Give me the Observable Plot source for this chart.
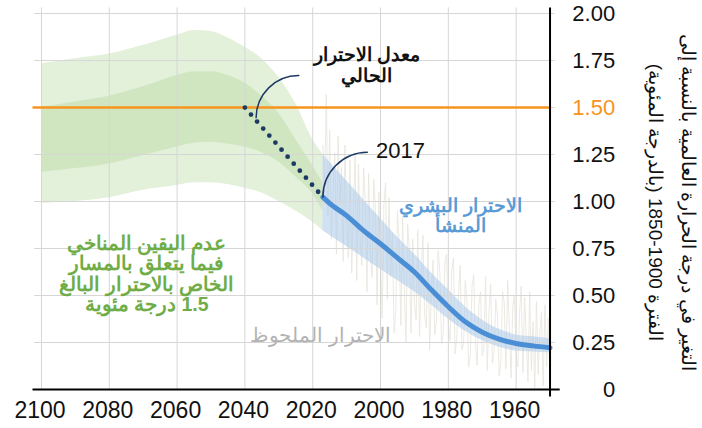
<!DOCTYPE html>
<html><head><meta charset="utf-8">
<script src="https://cdn.jsdelivr.net/npm/d3@7"></script>
<script src="https://cdn.jsdelivr.net/npm/@observablehq/plot@0.6"></script>
<style>
body{margin:0;background:#fff;}
svg{font-family:"Liberation Sans", Arial, sans-serif;}
</style>
</head><body><div id="chart"></div>
<script>
// ---- data ----
const xTicks = [2100, 2080, 2060, 2040, 2020, 2000, 1980, 1960];
const yTicks = [0, 0.25, 0.5, 0.75, 1.0, 1.25, 1.5, 1.75, 2.0];
const yTickLabels = ["0", "0.25", "0.50", "0.75", "1.00", "1.25", "1.50", "1.75", "2.00"];
const target = 1.5;

// anthropogenic warming (blue): central line and likely range
const blueYears = [1950, 1955, 1960, 1965, 1970, 1975, 1980, 1985, 1990, 1995, 2000, 2005, 2010, 2015, 2017];
const blueMid  = [0.222, 0.232, 0.245, 0.268, 0.305, 0.36, 0.44, 0.53, 0.625, 0.70, 0.775, 0.845, 0.925, 0.99, 1.023];
const blueHigh = [0.27, 0.28, 0.29, 0.32, 0.37, 0.44, 0.53, 0.62, 0.72, 0.81, 0.91, 1.01, 1.11, 1.21, 1.25];
const blueLow  = [0.195, 0.20, 0.205, 0.225, 0.26, 0.31, 0.375, 0.45, 0.52, 0.58, 0.64, 0.70, 0.76, 0.82, 0.845];

// climate uncertainty for 1.5°C pathway (green)
const greenYears     = [2017, 2020, 2025, 2030, 2035, 2040, 2045, 2050, 2055, 2060, 2070, 2080, 2090, 2100];
const greenOuterHigh = [1.25, 1.33, 1.52, 1.66, 1.76, 1.82, 1.87, 1.905, 1.91, 1.885, 1.83, 1.785, 1.76, 1.733];
const greenOuterLow  = [0.845, 0.89, 0.95, 1.00, 1.045, 1.07, 1.09, 1.10, 1.10, 1.085, 1.06, 1.02, 1.00, 0.99];
const greenInnerHigh = [1.10, 1.19, 1.33, 1.47, 1.56, 1.63, 1.67, 1.69, 1.69, 1.67, 1.61, 1.56, 1.53, 1.50];
const greenInnerLow  = [0.95, 1.04, 1.13, 1.21, 1.26, 1.29, 1.305, 1.315, 1.31, 1.29, 1.245, 1.20, 1.175, 1.155];

// current warming rate extrapolation
const rateYears = [2040, 2017];
const rateValues = [1.5, 1.023];

// observed warming (half-year samples from 1950)
const obsStart = 1950;
const obsValues = [
 0.05,0.38, 0.12,0.45, 0.02,0.41, 0.30,0.08, 0.47,0.01, 0.36,0.10, 0.52,0.04, 0.28,0.49, 0.09,0.55, 0.40,0.12,
 0.18,0.50, 0.44,0.06, 0.33,0.58, 0.11,0.46, 0.52,0.15, 0.07,0.39, 0.48,0.20, 0.14,0.56, 0.42,0.10, 0.60,0.22,
 0.18,0.52, 0.45,0.13, 0.25,0.61, 0.55,0.19, 0.12,0.47, 0.58,0.24, 0.21,0.66, 0.50,0.28, 0.19,0.70, 0.63,0.26,
 0.35,0.72, 0.68,0.30, 0.24,0.62, 0.74,0.36, 0.29,0.69, 0.52,0.21, 0.78,0.33, 0.40,0.82, 0.62,0.28, 0.85,0.37,
 0.46,0.80, 0.30,0.74, 0.88,0.25, 0.55,0.92, 0.34,0.79, 0.95,0.42, 0.30,0.83, 0.60,1.02, 0.48,1.10, 0.98,0.38,
 0.70,1.05, 0.45,0.96, 1.12,0.60, 0.72,1.15, 0.52,1.00, 1.18,0.66, 0.78,1.20, 0.58,1.25, 0.95,0.62, 1.22,0.70,
 0.90,1.30, 0.68,1.18, 0.98,1.35, 0.72,1.26, 1.05,0.80, 1.38,0.92, 1.57,1.05, 1.30
];

// annotations (data units)
const labelRate = "معدل الاحترار\nالحالي";
const labelYear = "2017";
const labelAnthro = "الاحترار البشري\nالمنشأ";
const labelObserved = "الاحترار الملحوظ";
const labelUncertainty = "عدم اليقين المناخي\nفيما يتعلق بالمسار\nالخاص بالاحترار البالغ\n1.5 درجة مئوية";
const yTitle1 = "التغير في درجة الحرارة العالمية بالنسبة إلى";
const yTitle2 = "الفترة 1900-1850 (بالدرجة المئوية)";
const arrows = [
  {x1: 2003.9, y1: 1.262, x2: 2017, y2: 1.023, head: 0},
  {x1: 2024.1, y1: 1.670, x2: 2036.7, y2: 1.445, head: 5}
];

// ---- build tables ----
const blue = blueYears.map((x, i) => ({x, mid: blueMid[i], lo: blueLow[i], hi: blueHigh[i]}));
const green = greenYears.map((x, i) => ({x, oh: greenOuterHigh[i], ol: greenOuterLow[i], ih: greenInnerHigh[i], il: greenInnerLow[i]}));
const rate = rateYears.map((x, i) => ({x, y: rateValues[i]}));
const obs = obsValues.map((y, i) => ({x: obsStart + i / 2, y}));
const yLab = yTicks.map((v, i) => ({v, t: yTickLabels[i]}));

const navy = "#1c3a64";
const chart = Plot.plot({
  width: 702, height: 428,
  marginTop: 7.4, marginBottom: 31.5, marginLeft: 32.5, marginRight: 142.3,
  x: {domain: [2102.5, 1947], axis: null},
  y: {domain: [-0.04, 2.03], axis: null},
  style: {overflow: "visible", background: "white"},
  marks: [
    Plot.areaY(green, {x: "x", y1: "ol", y2: "oh", fill: "#e3f0da", curve: "monotone-x"}),
    Plot.areaY(green, {x: "x", y1: "il", y2: "ih", fill: "#d0e6c1", curve: "monotone-x"}),
    Plot.line(obs, {x: "x", y: "y", stroke: "#e9e7df", strokeWidth: 0.9}),
    Plot.areaY(blue, {x: "x", y1: "lo", y2: "hi", fill: "#a9c8ea", fillOpacity: 0.55, curve: "monotone-x"}),
    Plot.ruleY(yTicks.filter(d => d > 0), {x1: 2102, x2: 1948.5, stroke: "#d6d6d6", strokeWidth: 1}),
    Plot.ruleX(xTicks, {y1: 0, y2: 2.03, stroke: "#d6d6d6", strokeWidth: 1}),
    Plot.line(blue, {x: "x", y: "mid", stroke: "#4a8fd6", strokeWidth: 5, curve: "monotone-x"}),
    Plot.ruleY([target], {x1: 2102.5, x2: 1950, stroke: "#f7941d", strokeWidth: 2.5}),
    Plot.line(rate, {x: "x", y: "y", stroke: navy, strokeWidth: 4.8, strokeDasharray: "0 9.3", strokeLinecap: "round"}),
    Plot.ruleY([0], {x1: 2102.5, x2: 1947, stroke: "#000", strokeWidth: 2}),
    Plot.ruleX([1950], {stroke: "#000", strokeWidth: 2}),
    Plot.arrow(arrows, {x1: "x1", y1: "y1", x2: "x2", y2: "y2", bend: -45, stroke: navy, strokeWidth: 1.5, headLength: d => d.head}),
    Plot.text(xTicks, {x: d => d, frameAnchor: "bottom", dy: 14, dx: -1.5, text: d => String(d), fontSize: 23, fill: "#111", lineAnchor: "middle"}),
    Plot.text(yLab, {y: "v", text: "t", frameAnchor: "right", dx: 55, textAnchor: "end", fontSize: 22, lineAnchor: "middle", fill: d => d.v === target ? "#f7941d" : "#111"}),
    Plot.text([yTitle1], {frameAnchor: "right", dx: 128, rotate: 90, fontSize: 19, fill: "#111", textAnchor: "middle", lineAnchor: "middle"}),
    Plot.text([yTitle2], {frameAnchor: "right", dx: 95, rotate: 90, fontSize: 19, fill: "#111", textAnchor: "middle", lineAnchor: "middle"}),
    Plot.text([labelRate], {x: () => 2004, y: () => 1.725, fontSize: 19, fontWeight: "bold", fill: "#111", lineHeight: 1.1, lineAnchor: "middle"}),
    Plot.text([labelYear], {x: () => 1994.1, y: () => 1.27, fontSize: 22, fill: "#111", lineAnchor: "middle"}),
    Plot.text([labelAnthro], {x: () => 1976.4, y: () => 0.925, fontSize: 18.5, fontWeight: "bold", fill: "#5b9bd5", lineHeight: 1.1, lineAnchor: "middle"}),
    Plot.text([labelObserved], {x: () => 2017.7, y: () => 0.285, fontSize: 20, fill: "#b3b3b3", lineAnchor: "middle"}),
    Plot.text([labelUncertainty], {x: () => 2069, y: () => 0.615, fontSize: 19.5, fontWeight: "bold", fill: "#70ad47", lineHeight: 1.05, lineAnchor: "middle"})
  ]
});
d3.select(chart).selectAll("text").filter(function() { return /[\u0600-\u06FF]/.test(this.textContent); }).attr("direction", "rtl");
document.getElementById("chart").appendChild(chart);
</script>
</body></html>
